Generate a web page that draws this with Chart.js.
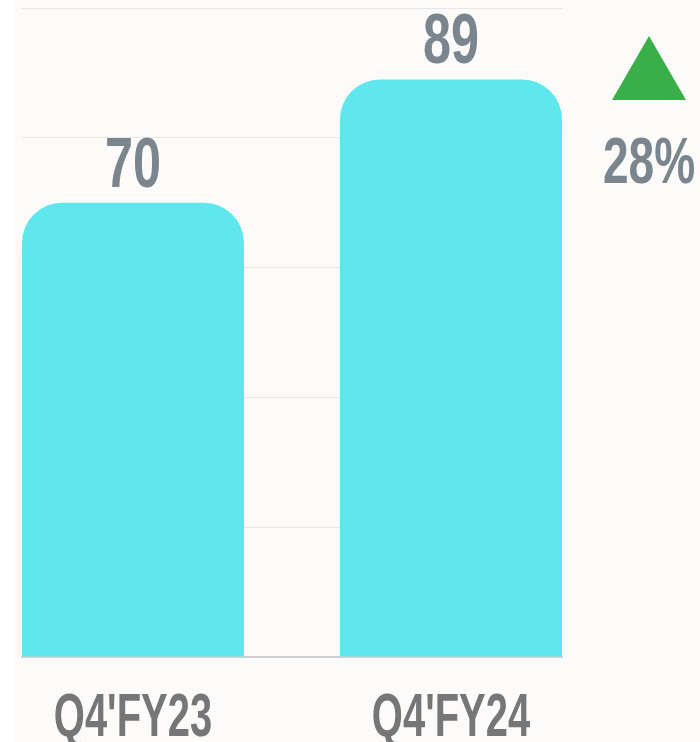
<!DOCTYPE html>
<html>
<head>
<meta charset="utf-8">
<script src="https://cdn.jsdelivr.net/npm/chart.js@4"></script>
<style>
  html, body { margin: 0; padding: 0; background: #fff; }
  #wrap { width: 700px; height: 742px; }
</style>
</head>
<body>
<div id="wrap"><canvas id="chart" width="700" height="742"></canvas></div>
<script>
// data
const categories = ["Q4'FY23", "Q4'FY24"];
const values = [70, 89];
const changeLabel = '28%';

const FONT = '"Liberation Sans Narrow", "Liberation Sans", sans-serif';

// draw condensed bold text (squeezed horizontally)
function squeezedText(ctx, text, x, y, size, color, squeeze){
  ctx.save();
  ctx.font = 'bold ' + size + 'px ' + FONT;
  ctx.fillStyle = color;
  ctx.textAlign = 'center';
  ctx.textBaseline = 'alphabetic';
  ctx.translate(x, y);
  ctx.scale(squeeze, 1);
  ctx.fillText(text, 0, 0);
  ctx.restore();
}

const bgPlugin = {
  id: 'bg',
  beforeDraw(chart){
    const ctx = chart.ctx;
    ctx.save();
    ctx.fillStyle = '#fcfbfa';
    ctx.fillRect(15, 0, chart.width - 15, chart.height);
    ctx.restore();
  }
};

const labelsPlugin = {
  id: 'labels',
  afterDraw(chart){
    const ctx = chart.ctx;
    const meta = chart.getDatasetMeta(0);
    const xs = chart.scales.x;
    meta.data.forEach((bar, i) => {
      squeezedText(ctx, String(values[i]), bar.x, bar.y - 16, 70, '#7a858e', 0.72);
      squeezedText(ctx, categories[i], xs.getPixelForValue(i), 736, 62, '#767676', 0.645);
    });
    // change indicator
    ctx.save();
    ctx.fillStyle = '#3aae48';
    ctx.beginPath();
    ctx.moveTo(649, 36);
    ctx.lineTo(686, 100);
    ctx.lineTo(612, 100);
    ctx.closePath();
    ctx.fill();
    ctx.restore();
    squeezedText(ctx, changeLabel, 649, 183, 64, '#7a858e', 0.72);
  }
};

new Chart(document.getElementById('chart'), {
  type: 'bar',
  data: {
    datasets: [{
      data: values.map((v, i) => ({ x: i, y: v })),
      backgroundColor: '#5fe7ee',
      borderRadius: { topLeft: 40, topRight: 40, bottomLeft: 0, bottomRight: 0 },
      borderSkipped: false,
      barPercentage: 0.698,
      categoryPercentage: 1
    }]
  },
  options: {
    responsive: false,
    animation: false,
    layout: { padding: { left: 22, right: 138, top: 8, bottom: 85 } },
    plugins: { legend: { display: false }, tooltip: { enabled: false } },
    scales: {
      x: {
        type: 'linear',
        offset: false,
        min: -0.349,
        max: 1.349,
        afterBuildTicks(scale){ scale.ticks = [{ value: 0 }, { value: 1 }]; },
        ticks: { display: false },
        grid: { display: false, drawTicks: false, offset: false },
        border: { display: true, color: '#d0d0d0', width: 2 }
      },
      y: {
        min: 0,
        max: 100,
        ticks: { display: false, stepSize: 20 },
        grid: { color: '#e6e6e6', lineWidth: 1, drawTicks: false },
        border: { display: false }
      }
    }
  },
  plugins: [bgPlugin, labelsPlugin]
});
</script>
</body>
</html>
